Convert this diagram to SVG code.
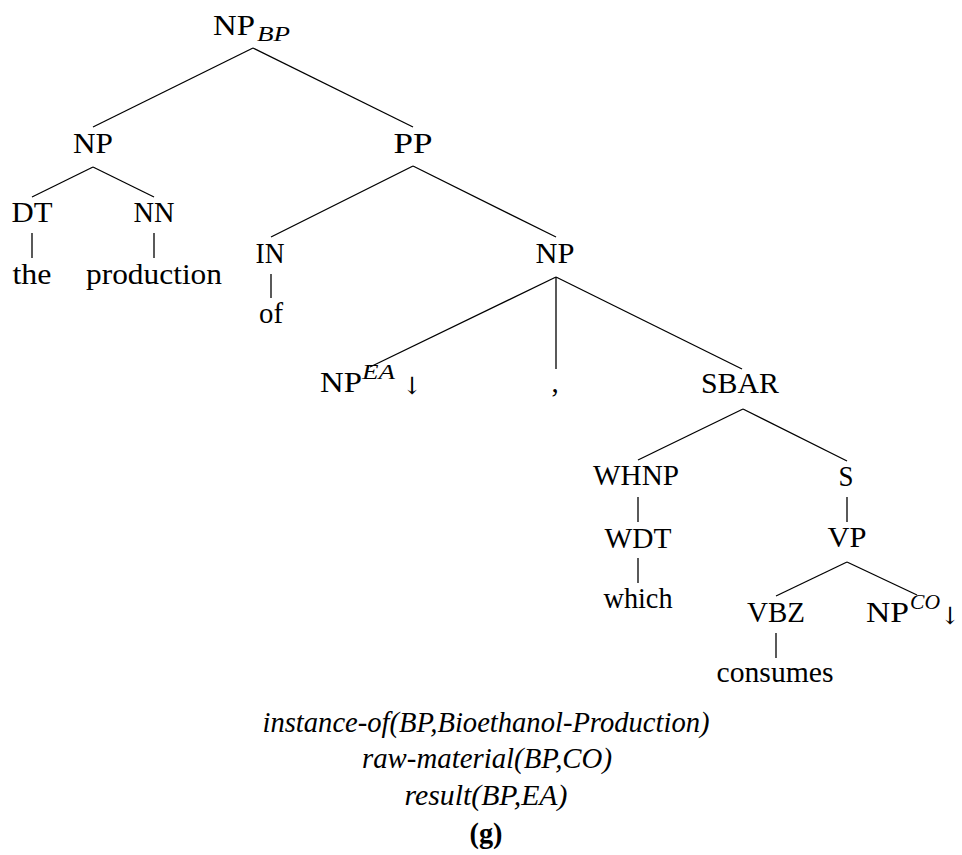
<svg xmlns="http://www.w3.org/2000/svg" width="962" height="855" viewBox="0 0 962 855" font-family="Liberation Serif, serif" font-size="29">
<style>
text{font-family:"Liberation Serif",serif;font-size:29px;fill:#000}
.m{text-anchor:middle}
.s{font-size:20px;font-style:italic}
.i{font-style:italic}
.b{font-weight:bold}
.arr{font-family:"DejaVu Serif","Liberation Serif",serif;font-size:24px}
#edges line{stroke:#000;stroke-width:1.3}
</style>
<rect width="962" height="855" fill="#fff"/>
<g id="edges">
<line x1="253" y1="48" x2="93" y2="127"/>
<line x1="253" y1="48" x2="413" y2="127"/>
<line x1="93" y1="167" x2="32" y2="197"/>
<line x1="93" y1="167" x2="154" y2="197"/>
<line x1="32" y1="233" x2="32" y2="258"/>
<line x1="154" y1="233" x2="154" y2="258"/>
<line x1="413" y1="166" x2="271" y2="237"/>
<line x1="413" y1="166" x2="556" y2="237"/>
<line x1="271" y1="274" x2="271" y2="298"/>
<line x1="556" y1="277" x2="370" y2="367"/>
<line x1="556" y1="277" x2="556" y2="369"/>
<line x1="556" y1="277" x2="742" y2="369"/>
<line x1="743" y1="409" x2="638" y2="460"/>
<line x1="743" y1="409" x2="847" y2="461"/>
<line x1="638" y1="497" x2="638" y2="522"/>
<line x1="847" y1="497" x2="847" y2="522"/>
<line x1="638" y1="558" x2="638" y2="583"/>
<line x1="847" y1="562" x2="776" y2="596"/>
<line x1="847" y1="562" x2="917" y2="595"/>
<line x1="776" y1="633" x2="776" y2="658"/>
</g>
<g id="n-root"><text x="213" y="35" textLength="42" lengthAdjust="spacingAndGlyphs">NP</text><text class="s" x="257" y="41" textLength="33" lengthAdjust="spacingAndGlyphs">BP</text></g>
<g id="n-np1"><text class="m" x="93" y="153" textLength="40" lengthAdjust="spacingAndGlyphs">NP</text></g>
<g id="n-pp"><text class="m" x="413" y="153" textLength="39" lengthAdjust="spacingAndGlyphs">PP</text></g>
<g id="n-dt"><text class="m" x="32" y="222" textLength="41" lengthAdjust="spacingAndGlyphs">DT</text></g>
<g id="n-nn"><text class="m" x="154" y="222" textLength="41" lengthAdjust="spacingAndGlyphs">NN</text></g>
<g id="n-the"><text class="m" x="32" y="284" textLength="39" lengthAdjust="spacingAndGlyphs">the</text></g>
<g id="n-production"><text class="m" x="154" y="284" textLength="136" lengthAdjust="spacingAndGlyphs">production</text></g>
<g id="n-in"><text class="m" x="270" y="263" textLength="29" lengthAdjust="spacingAndGlyphs">IN</text></g>
<g id="n-of"><text class="m" x="271" y="323" textLength="24" lengthAdjust="spacingAndGlyphs">of</text></g>
<g id="n-np2"><text class="m" x="555" y="263" textLength="39" lengthAdjust="spacingAndGlyphs">NP</text></g>
<g id="n-npea"><text x="320" y="392" textLength="42" lengthAdjust="spacingAndGlyphs">NP</text><text class="s" x="362" y="379" textLength="33" lengthAdjust="spacingAndGlyphs">EA</text><text class="arr" x="402" y="394">↓</text></g>
<g id="n-comma"><text class="m" x="555" y="392">,</text></g>
<g id="n-sbar"><text class="m" x="740" y="393" textLength="78" lengthAdjust="spacingAndGlyphs">SBAR</text></g>
<g id="n-whnp"><text class="m" x="636" y="485" textLength="86" lengthAdjust="spacingAndGlyphs">WHNP</text></g>
<g id="n-s"><text class="m" x="846" y="486" textLength="15" lengthAdjust="spacingAndGlyphs">S</text></g>
<g id="n-wdt"><text class="m" x="638" y="548" textLength="67" lengthAdjust="spacingAndGlyphs">WDT</text></g>
<g id="n-vp"><text class="m" x="847" y="547" textLength="39" lengthAdjust="spacingAndGlyphs">VP</text></g>
<g id="n-which"><text class="m" x="638" y="608" textLength="69" lengthAdjust="spacingAndGlyphs">which</text></g>
<g id="n-vbz"><text class="m" x="776" y="622" textLength="58" lengthAdjust="spacingAndGlyphs">VBZ</text></g>
<g id="n-npco"><text x="866" y="622" textLength="43" lengthAdjust="spacingAndGlyphs">NP</text><text class="s" x="910" y="609" textLength="30" lengthAdjust="spacingAndGlyphs">CO</text><text class="arr" x="940" y="624">↓</text></g>
<g id="n-consumes"><text class="m" x="775" y="682" textLength="117" lengthAdjust="spacingAndGlyphs">consumes</text></g>
<g id="caption">
<text class="m i" x="486" y="732" textLength="447" lengthAdjust="spacingAndGlyphs">instance-of(BP,Bioethanol-Production)</text>
<text class="m i" x="487" y="768" textLength="250" lengthAdjust="spacingAndGlyphs">raw-material(BP,CO)</text>
<text class="m i" x="486" y="805" textLength="163" lengthAdjust="spacingAndGlyphs">result(BP,EA)</text>
<text class="m b" x="486" y="843" textLength="33" lengthAdjust="spacingAndGlyphs">(g)</text>
</g>
</svg>
